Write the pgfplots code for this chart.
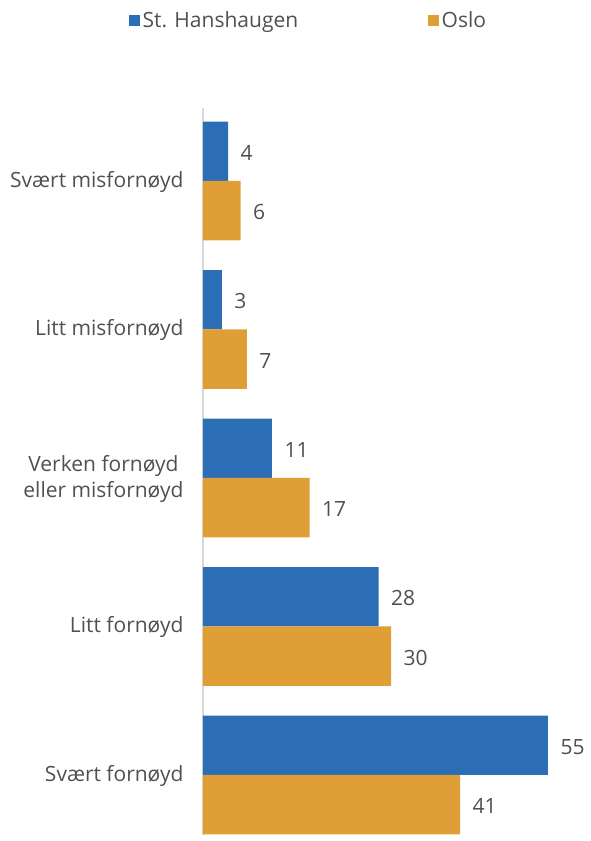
\documentclass[border=0pt]{standalone}
\usepackage{pgfplots}
\pgfplotsset{compat=1.18}
\usepackage{fontspec}
\setmainfont{Open Sans}
\definecolor{cblue}{RGB}{44,110,181}
\definecolor{corange}{RGB}{224,158,54}
\definecolor{ctext}{RGB}{80,80,80}
\definecolor{caxis}{RGB}{217,217,217}
\newcommand{\lblfont}{\fontsize{21}{26.5}\selectfont}
\begin{document}
\begin{tikzpicture}
\path[use as bounding box] (0,0) rectangle (590pt,841pt);
\begin{axis}[
  at={(203pt,733pt)}, anchor=north west,
  scale only axis, width=345pt, height=727pt,
  xbar, xmin=0, xmax=55, ymin=-0.404, ymax=4.491,
  bar width=0.4,
  axis x line=none, axis y line*=left,
  y axis line style={caxis, line width=1.5pt},
  ytick={0,1,2,3,4},
  yticklabels={Svært fornøyd, Litt fornøyd, {Verken fornøyd\\eller misfornøyd}, Litt misfornøyd, Svært misfornøyd},
  major tick length=0pt, tick style={draw=none},
  yticklabel style={align=center, font=\lblfont, text=ctext, xshift=-16pt, yshift=-1pt},
  clip=false,
  /pgf/number format/assume math mode=true,
  nodes near coords,
  every node near coord/.append style={anchor=west, font=\lblfont, text=ctext, xshift=9pt, yshift=-1.5pt},
  legend columns=2,
  legend style={draw=none, fill=none, at={(-0.2145,1.121)}, anchor=west, font=\lblfont, text=ctext, inner sep=0pt,
    /tikz/every even column/.append style={column sep=128pt}},
  legend image code/.code={\fill[#1] (0pt,-5.5pt) rectangle (10.5pt,5.5pt);},
]
\addplot[fill=cblue, draw=none, bar shift=0.2] coordinates {(4,4) (3,3) (11,2) (28,1) (55,0)};
\addplot[fill=corange, draw=none, bar shift=-0.2] coordinates {(6,4) (7,3) (17,2) (30,1) (41,0)};
\legend{\hspace{1pt}St. Hanshaugen, \hspace{1pt}Oslo}
\end{axis}
\end{tikzpicture}
\end{document}
